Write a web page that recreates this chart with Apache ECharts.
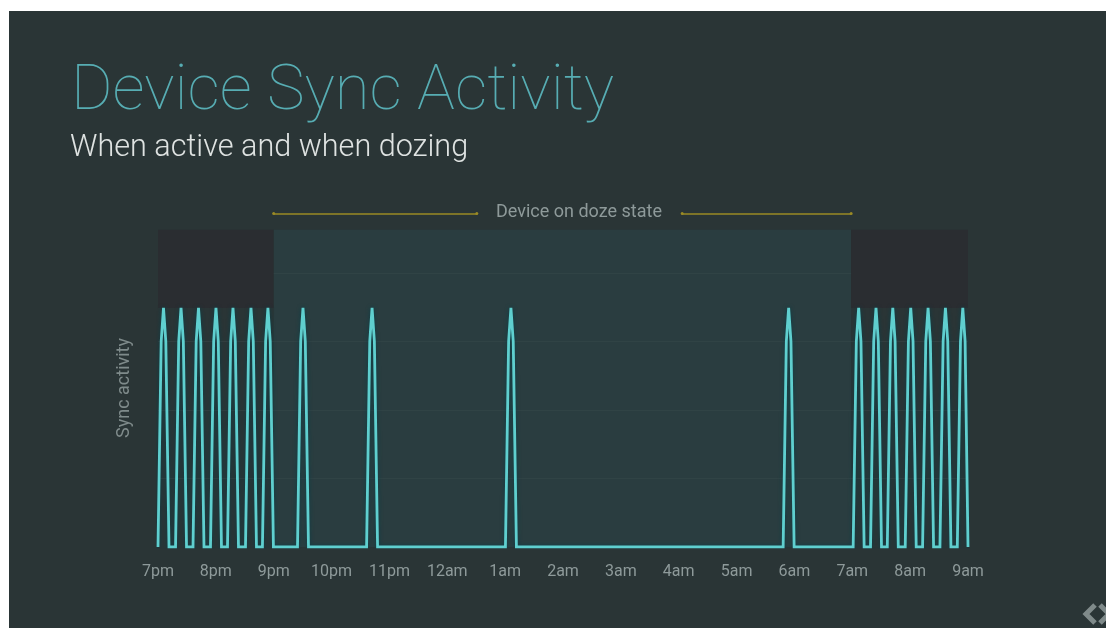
<!DOCTYPE html>
<html>
<head>
<meta charset="utf-8">
<title>Device Sync Activity</title>
<script src="https://cdn.jsdelivr.net/npm/echarts@6/dist/echarts.min.js"></script>
<style>
html, body { margin: 0; padding: 0; background: #fff; }
#panel { position: absolute; left: 9px; top: 11px; width: 1097px; height: 617px; background: #2a3536; }
#main { position: absolute; left: 0; top: 0; width: 1106px; height: 628px; }
</style>
</head>
<body>
<div id="panel"></div>
<div id="main"></div>
<script>
// tick labels, one per hour starting at 7pm
var hourLabels = ['7pm', '8pm', '9pm', '10pm', '11pm', '12am', '1am', '2am', '3am', '4am', '5am', '6am', '7am', '8am', '9am'];

// sync activity: [hours since 7pm, level]
var activeEvening = [
  [0, 0], [0.055, 3], [0.095, 3.49], [0.135, 3], [0.19, 0],
  [0.303, 0], [0.358, 3], [0.398, 3.49], [0.438, 3], [0.493, 0],
  [0.605, 0], [0.66, 3], [0.7, 3.49], [0.74, 3], [0.795, 0],
  [0.907, 0], [0.962, 3], [1.002, 3.49], [1.042, 3], [1.097, 0],
  [1.201, 0], [1.256, 3], [1.296, 3.49], [1.336, 3], [1.391, 0],
  [1.512, 0], [1.567, 3], [1.607, 3.49], [1.647, 3], [1.702, 0],
  [1.805, 0], [1.86, 3], [1.9, 3.49], [1.94, 3], [1.995, 0]
];
var dozing = [
  [2.411, 0], [2.466, 3], [2.506, 3.49], [2.546, 3], [2.601, 0],
  [3.605, 0], [3.66, 3], [3.7, 3.49], [3.74, 3], [3.795, 0],
  [6.005, 0], [6.06, 3], [6.1, 3.49], [6.14, 3], [6.195, 0],
  [10.805, 0], [10.86, 3], [10.9, 3.49], [10.94, 3], [10.995, 0]
];
var activeMorning = [
  [12.015, 0], [12.07, 3], [12.11, 3.49], [12.15, 3], [12.205, 0],
  [12.315, 0], [12.37, 3], [12.41, 3.49], [12.45, 3], [12.505, 0],
  [12.605, 0], [12.66, 3], [12.7, 3.49], [12.74, 3], [12.795, 0],
  [12.915, 0], [12.97, 3], [13.01, 3.49], [13.05, 3], [13.105, 0],
  [13.215, 0], [13.27, 3], [13.31, 3.49], [13.35, 3], [13.405, 0],
  [13.515, 0], [13.57, 3], [13.61, 3.49], [13.65, 3], [13.705, 0],
  [13.815, 0], [13.87, 3], [13.91, 3.49], [13.95, 3], [14, 0]
];

var chart = echarts.init(document.getElementById('main'), null, { renderer: 'canvas' });
var font = 'Roboto';

chart.setOption({
  backgroundColor: 'transparent',
  animation: false,
  title: [
    {
      text: 'Device Sync Activity', left: 66, top: 56,
      textStyle: { color: '#57adb3', fontFamily: font, fontSize: 63.5, fontWeight: 100 }
    },
    {
      text: 'When active and when dozing', left: 65, top: 128,
      textStyle: { color: '#dfe3e2', fontFamily: font, fontSize: 30.6, fontWeight: 300 }
    }
  ],
  grid: { left: 158, right: 138, top: 204.5, bottom: 81, containLabel: false },
  xAxis: {
    type: 'value', min: 0, max: 14, interval: 1,
    splitLine: { show: false },
    axisLine: { show: false },
    axisTick: { show: false },
    axisLabel: {
      margin: 17,
      color: '#8e9a9a', fontFamily: font, fontSize: 16,
      formatter: function (v) { return hourLabels[v]; }
    }
  },
  yAxis: {
    type: 'value', min: 0, max: 5, interval: 1,
    axisLine: { show: false },
    axisTick: { show: false },
    axisLabel: { show: false },
    splitLine: {
      show: true, showMinLine: false, showMaxLine: false,
      lineStyle: { color: 'rgba(255,255,255,0.05)', width: 1 }
    }
  },
  series: [{
    type: 'line',
    name: 'Sync activity',
    data: activeEvening.concat(dozing, activeMorning),
    symbol: 'none',
    smooth: false,
    lineStyle: {
      color: '#5fcfcf', width: 2.8, join: 'miter',
      shadowColor: '#0c3f48', shadowBlur: 4
    },
    markArea: {
      silent: true,
      data: [
        [{ xAxis: 0, yAxis: 4.63, itemStyle: { color: '#2a2d31' } }, { xAxis: 2, yAxis: 3.49 }],
        [{ xAxis: 2, yAxis: 4.63, itemStyle: { color: 'rgba(42,74,78,0.42)' } }, { xAxis: 11.98, yAxis: 0 }],
        [{ xAxis: 11.98, yAxis: 4.63, itemStyle: { color: '#2a2d31' } }, { xAxis: 14, yAxis: 3.49 }]
      ]
    },
    markLine: {
      silent: true,
      symbol: 'circle',
      symbolSize: 3,
      label: { show: false },
      lineStyle: { color: '#9a8a25', width: 1.5, type: 'solid' },
      data: [
        [{ xAxis: 2, yAxis: 4.87 }, { xAxis: 5.51, yAxis: 4.87 }],
        [{ xAxis: 9.06, yAxis: 4.87 }, { xAxis: 11.98, yAxis: 4.87 }]
      ]
    }
  }],
  graphic: [
    {
      type: 'text', left: 496, top: 203,
      style: { text: 'Device on doze state', fill: '#8e9a9a', font: '18px Roboto' }
    },
    {
      type: 'text', x: 124, y: 388, rotation: Math.PI / 2,
      style: { text: 'Sync activity', fill: '#7f8b8b', font: '18px Roboto', align: 'center', verticalAlign: 'middle' }
    },
    // little slide logo, bottom right corner
    {
      type: 'polyline', shape: { points: [[1095, 605], [1086, 614], [1095, 623]] },
      style: { stroke: '#7f8a8a', lineWidth: 5, fill: 'none' }
    },
    {
      type: 'polyline', shape: { points: [[1100, 605], [1109, 614], [1100, 623]] },
      style: { stroke: '#7f8a8a', lineWidth: 5, fill: 'none' }
    }
  ]
});
</script>
</body>
</html>
